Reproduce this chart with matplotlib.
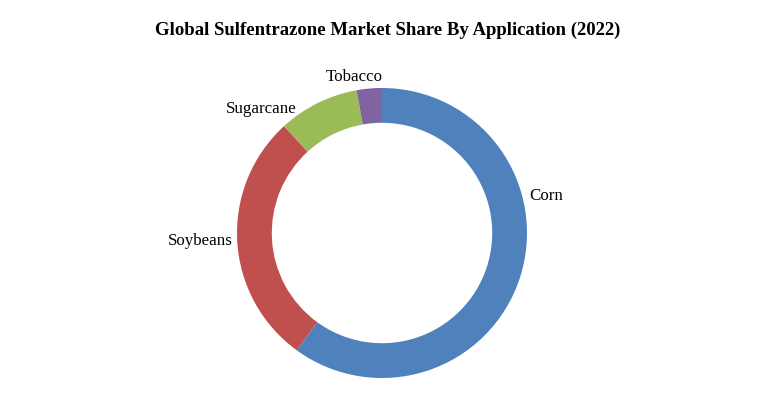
import matplotlib
matplotlib.use("Agg")
import matplotlib.pyplot as plt

# market share by application (%)
applications = ["Corn", "Soybeans", "Sugarcane", "Tobacco"]
shares = [60.0, 28.2, 9.0, 2.8]
colors = ["#4F81BD", "#C0504D", "#9BBB59", "#8064A2"]

# label positions in pie-radius units (Excel puts them off the slice midpoints)
label_pos = [(1.13, 0.255), (-1.255, -0.055), (-0.83, 0.855), (-0.19, 1.075)]

plt.rcParams["font.family"] = ["Liberation Serif", "DejaVu Serif"]

fig = plt.figure(figsize=(7.81, 3.95), dpi=100)
fig.patch.set_facecolor("white")

# donut centred at ~(382, 233) px, outer radius ~145 px
cx, cy, r = 382, 233, 145
W, H = 781, 395
ax = fig.add_axes([(cx - r) / W, (H - cy - r) / H, 2 * r / W, 2 * r / H])

ax.pie(shares, colors=colors, startangle=90, counterclock=False,
       radius=1.0, wedgeprops=dict(width=0.24, edgecolor="none"))
ax.set_xlim(-1, 1)
ax.set_ylim(-1, 1)
ax.set_aspect("equal")
ax.axis("off")

for name, (lx, ly) in zip(applications, label_pos):
    ax.text(lx, ly, name, ha="center", va="center", fontsize=12.2,
            color="black", clip_on=False)

fig.text(388 / W, 1 - 30 / H,
         "Global Sulfentrazone Market Share By Application (2022)",
         ha="center", va="center", fontsize=13.5, fontweight="bold")

fig.savefig("out.png", dpi=100, facecolor="white")
